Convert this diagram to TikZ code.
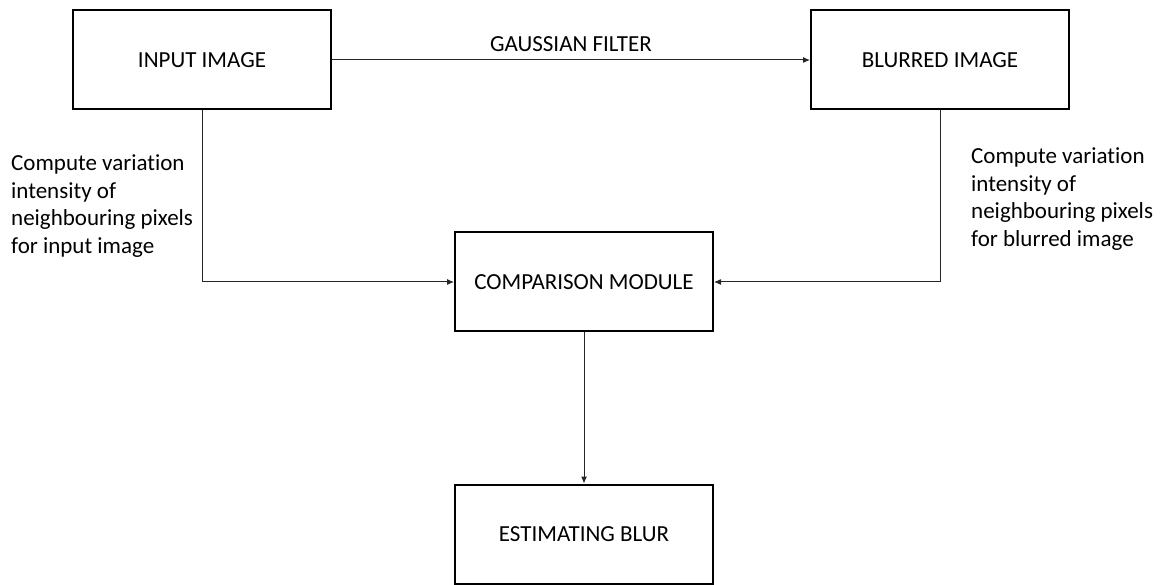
\documentclass[tikz,border=0pt]{standalone}
\usepackage{fontspec}
\setmainfont[Ligatures=NoCommon]{Carlito}
\usetikzlibrary{arrows.meta}

\begin{document}
\begin{tikzpicture}[x=1pt,y=-1pt,
  every node/.style={font=\fontsize{23}{27.7}\selectfont},
  stage/.style={draw=black,line width=2pt,minimum width=258pt,minimum height=99pt,inner sep=0pt},
  link/.style={draw=black!85,line width=1pt,-{Latex[length=7pt,width=6pt]}},
  note/.style={align=left,anchor=west,inner sep=0pt}]
\useasboundingbox (0,0) rectangle (1171,585);
% boxes
\node [stage] (input) at (202,60) {INPUT IMAGE};
\node [stage] (blurred) at (940,60) {BLURRED IMAGE};
\node [stage] (compare) at (584,282) {COMPARISON MODULE};
\node [stage] (estimate) at (584,534) {ESTIMATING BLUR};
% side texts
\node [note] (inputnote) at (11,206) {Compute variation\\intensity of\\neighbouring pixels\\for input image};
\node [note] (blurrednote) at (971,199) {Compute variation\\intensity of\\neighbouring pixels\\for blurred image};
% connectors
\draw [link] (input) -- node [above=8pt,inner sep=0pt] {GAUSSIAN FILTER} (blurred);
\draw [link] (input.south) |- (compare.west);
\draw [link] (blurred.south) |- (compare.east);
\draw [link] (compare) -- (estimate);
\end{tikzpicture}
\end{document}
